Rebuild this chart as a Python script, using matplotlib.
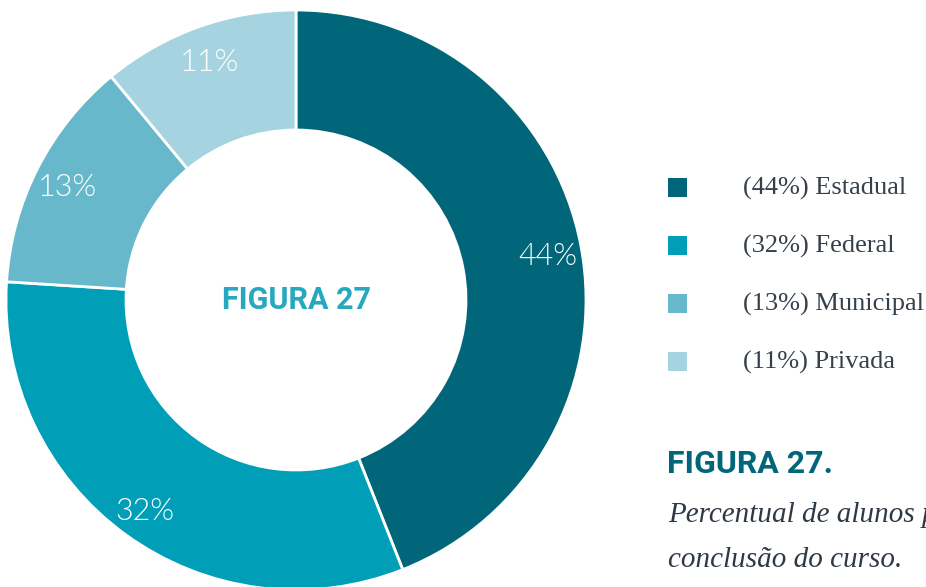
import matplotlib
matplotlib.use("Agg")
import matplotlib.pyplot as plt
from matplotlib.patches import Rectangle
import numpy as np

categories = ["Estadual", "Federal", "Municipal", "Privada"]
values = [44, 32, 13, 11]
colors = ["#02667a", "#009fb7", "#68b8cb", "#a6d3e0"]
center_title = "FIGURA 27"
caption_title = "FIGURA 27."
caption_lines = ["Percentual de alunos por", "conclusão do curso."]

W, H = 926, 587
fig = plt.figure(figsize=(W / 100, H / 100), dpi=100)
fig.patch.set_facecolor("white")

def fx(px):
    return px / W

def fy(py):
    return 1 - py / H

# donut axes: outer radius 290px centered at (296, 300)
cx, cy, R = 296, 300, 290
ax = fig.add_axes([fx(cx - R), fy(cy + R), 2 * R / W, 2 * R / H])
wedges, _ = ax.pie(values, colors=colors, startangle=90, counterclock=False,
                   radius=1.0,
                   wedgeprops=dict(width=120 / 290, edgecolor="white", linewidth=2))
ax.set_xlim(-1, 1)
ax.set_ylim(-1, 1)
ax.set_aspect("equal")
ax.axis("off")

# percentage labels
total = sum(values)
start = 90.0
for v, w in zip(values, wedges):
    span = 360.0 * v / total
    mid = np.deg2rad(start - span / 2)
    start -= span
    r = 0.885
    ax.text(r * np.cos(mid), r * np.sin(mid) - 0.015, f"{v}%", color="white",
            fontsize=22, family="Lato", fontweight=300,
            ha="center", va="center")

ax.text(0, 0, center_title, color="#26a8bf", fontsize=22, family="Roboto",
        fontweight="bold", ha="center", va="center")

# legend
row_y = [187, 245, 303, 361]
for cat, v, c, yy in zip(categories, values, colors, row_y):
    fig.patches.append(Rectangle((fx(668), fy(yy + 9.5)), 19 / W, 19 / H,
                                 transform=fig.transFigure, facecolor=c,
                                 edgecolor="none"))
    fig.text(fx(743), fy(yy + 8), f"({v}%) {cat}", color="#36404b",
             fontsize=19, family="Liberation Serif", ha="left", va="baseline")

# caption
fig.text(fx(667), fy(473), caption_title, color="#02667a", fontsize=23,
         family="Roboto", fontweight="bold", ha="left", va="baseline")
fig.text(fx(668), fy(522), caption_lines[0], color="#2f3944", fontsize=21,
         family="Liberation Serif", style="italic", ha="left", va="baseline")
fig.text(fx(668), fy(567), caption_lines[1], color="#2f3944", fontsize=21,
         family="Liberation Serif", style="italic", ha="left", va="baseline")

fig.savefig("out.png", dpi=100, facecolor="white")
